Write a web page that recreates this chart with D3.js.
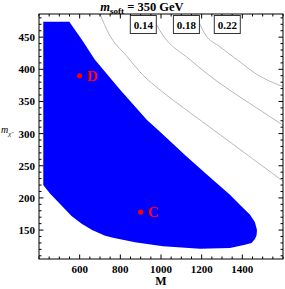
<!DOCTYPE html>
<html>
<head>
<meta charset="utf-8">
<script src="https://cdn.jsdelivr.net/npm/d3@7"></script>
<style>
  body { margin: 0; background: #fff; }
  text { font-family: "Liberation Serif", "DejaVu Serif", serif; font-weight: bold; }
</style>
</head>
<body>
<div id="container"></div>
<script>
// allowed region boundary, traced clockwise [M, m_chi]
var regionM   = [421, 549, 611, 675, 800, 931, 995, 1123, 1256, 1339, 1389, 1438, 1462, 1472, 1470, 1462, 1445, 1413, 1339, 1192, 1010, 872, 764, 725, 661, 610, 560, 493, 454, 421];
var regionChi = [474, 474, 446, 415, 368, 321, 303, 265, 228, 205, 189, 174, 162, 150, 142, 136, 130, 127, 122, 121, 125, 131, 138, 141, 150, 160, 172, 194, 207, 220];

// contour lines of constant ratio
var contourLabels = ["0.14", "0.18", "0.22"];
var contourM = [
    [700, 744, 830, 911, 995, 1150, 1300, 1450, 1600],
    [950, 1005, 1143, 1231, 1350, 1470, 1600],
    [1170, 1216, 1290, 1374, 1472, 1600]
];
var contourChi = [
    [486, 455, 421, 391, 368, 331, 296, 261, 226],
    [486, 455, 415, 392, 365, 340, 313],
    [486, 455, 435, 415, 392, 373]
];
var labelM = [913, 1125, 1326];

// benchmark points
var pointNames = ["D", "C"];
var pointM = [600, 900];
var pointChi = [390, 178];

var xTicks = [600, 800, 1000, 1200, 1400];
var yTicks = [150, 200, 250, 300, 350, 400, 450];

const margin = { top: 14, right: 2, bottom: 30, left: 39 },
    width = 285 - margin.left - margin.right,
    height = 289 - margin.top - margin.bottom;

var svg = d3.select("#container")
    .append("svg")
    .attr("width", 285)
    .attr("height", 289);

var g = svg.append("g")
    .attr("transform", "translate(" + margin.left + "," + margin.top + ")");

var x = d3.scaleLinear().domain([400, 1600]).range([0, width]);
var y = d3.scaleLinear().domain([105, 486]).range([height, 0]);

g.append("clipPath").attr("id", "clip")
    .append("rect").attr("width", width).attr("height", height);

var plot = g.append("g").attr("clip-path", "url(#clip)");

// region
var region = d3.range(regionM.length).map(function (i) { return [regionM[i], regionChi[i]]; });
plot.append("path")
    .datum(region)
    .attr("fill", "#0000ff")
    .attr("stroke", "none")
    .attr("d", d3.line()
        .x(function (d) { return x(d[0]); })
        .y(function (d) { return y(d[1]); })
        .curve(d3.curveLinearClosed));

// contours
var line = d3.line()
    .x(function (d) { return x(d[0]); })
    .y(function (d) { return y(d[1]); })
    .curve(d3.curveMonotoneX);
for (var k = 0; k < contourM.length; k++) {
    var pts = contourM[k].map(function (m, i) { return [m, contourChi[k][i]]; });
    plot.append("path")
        .datum(pts)
        .attr("fill", "none")
        .attr("stroke", "#b0b0b0")
        .attr("stroke-width", 0.9)
        .attr("d", line);
}

// points
for (var i = 0; i < pointNames.length; i++) {
    plot.append("circle")
        .attr("cx", x(pointM[i]))
        .attr("cy", y(pointChi[i]))
        .attr("r", 2.6)
        .attr("fill", "#ff0000");
    plot.append("text")
        .attr("x", x(pointM[i]) + 7)
        .attr("y", y(pointChi[i]) + 5)
        .attr("fill", "#ff0000")
        .style("font-size", "15px")
        .text(pointNames[i]);
}

// frame + ticks
g.append("rect")
    .attr("width", width).attr("height", height)
    .attr("fill", "none").attr("stroke", "#000").attr("stroke-width", 1);

var xMinor = d3.range(400, 1601, 50);
var yMinor = d3.range(110, 486, 10);

xMinor.forEach(function (v) {
    var len = xTicks.indexOf(v) >= 0 ? 4.5 : 2.5;
    g.append("line").attr("x1", x(v)).attr("x2", x(v)).attr("y1", height).attr("y2", height - len).attr("stroke", "#000");
    g.append("line").attr("x1", x(v)).attr("x2", x(v)).attr("y1", 0).attr("y2", len).attr("stroke", "#000");
});
yMinor.forEach(function (v) {
    var len = yTicks.indexOf(v) >= 0 ? 4.5 : 2.5;
    g.append("line").attr("y1", y(v)).attr("y2", y(v)).attr("x1", 0).attr("x2", len).attr("stroke", "#000");
    g.append("line").attr("y1", y(v)).attr("y2", y(v)).attr("x1", width).attr("x2", width - len).attr("stroke", "#000");
});

g.selectAll(".xl").data(xTicks).enter().append("text")
    .attr("x", function (d) { return x(d); })
    .attr("y", height + 14)
    .attr("text-anchor", "middle")
    .style("font-size", "11px")
    .text(function (d) { return d; });

g.selectAll(".yl").data(yTicks).enter().append("text")
    .attr("x", -4)
    .attr("y", function (d) { return y(d) + 4; })
    .attr("text-anchor", "end")
    .style("font-size", "11px")
    .text(function (d) { return d; });

// contour labels
for (var k = 0; k < contourLabels.length; k++) {
    var cx = x(labelM[k]);
    g.append("rect")
        .attr("x", cx - 13).attr("y", 1.5)
        .attr("width", 26).attr("height", 18)
        .attr("fill", "#fff").attr("stroke", "#333").attr("stroke-width", 1);
    g.append("text")
        .attr("x", cx).attr("y", 14.5)
        .attr("text-anchor", "middle")
        .style("font-size", "11px")
        .text(contourLabels[k]);
}

// title and axis labels
var title = svg.append("text").attr("x", 142).attr("y", 11).attr("text-anchor", "middle").style("font-size", "12.5px");
title.append("tspan").style("font-style", "italic").text("m");
title.append("tspan").attr("dy", 3).style("font-size", "9px").text("soft");
title.append("tspan").attr("dy", -3).text(" = 350 GeV");

svg.append("text").attr("x", margin.left + width / 2).attr("y", 285).attr("text-anchor", "middle").style("font-size", "12px").text("M");

var yl = svg.append("text").attr("x", 1).attr("y", 133).style("font-size", "10px").style("font-weight", "normal");
yl.append("tspan").style("font-style", "italic").text("m");
yl.append("tspan").attr("dy", 3).style("font-size", "7px").style("font-style", "italic").text("\u03C7\u0303");
</script>
</body>
</html>
